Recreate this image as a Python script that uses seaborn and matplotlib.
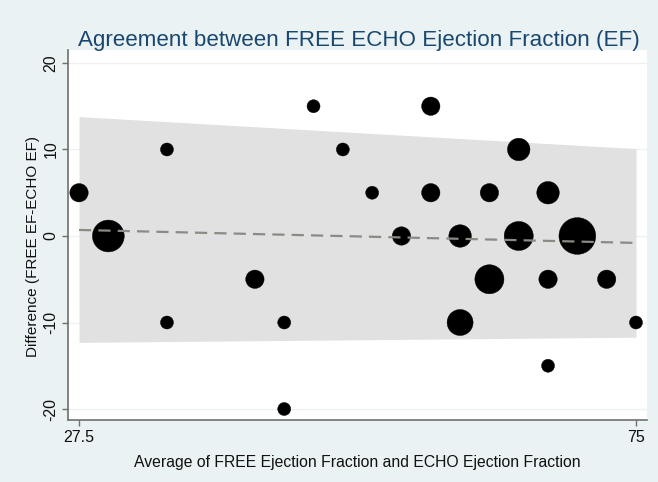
import matplotlib
matplotlib.use("Agg")
import matplotlib.pyplot as plt
import seaborn as sns
import pandas as pd

# Bland-Altman data: mean of the two EF measurements, their difference,
# and how many patients share each (mean, difference) pair.
avg_ef = [27.5, 30, 35, 35, 42.5, 45, 45, 47.5, 50, 52.5, 55, 57.5, 57.5,
          60, 60, 62.5, 62.5, 65, 65, 67.5, 67.5, 67.5, 70, 72.5, 75]
diff_ef = [5, 0, 10, -10, -5, -10, -20, 15, 10, 5, 0, 15, 5,
           0, -10, 5, -5, 10, 0, 5, -5, -15, 0, -5, -10]
n_obs = [2, 6, 1, 1, 2, 1, 1, 1, 1, 1, 2, 2, 2,
         3, 4, 2, 5, 3, 5, 3, 2, 1, 8, 2, 1]

# Regression-based mean difference and limits of agreement at the ends of the range
band_x = [27.5, 75]
band_upper = [13.8, 10.1]
band_lower = [-12.3, -11.7]
band_mean = [0.7, -0.8]

y_ticks = [20, 10, 0, -10, -20]
x_ticks = [27.5, 75]

df = pd.DataFrame({"avg": avg_ef, "diff": diff_ef, "n": n_obs})

sns.set_theme(style="white")
plt.rcParams["font.family"] = ["Liberation Sans", "DejaVu Sans"]

bg = "#eaf2f3"
fig = plt.figure(figsize=(6.58, 4.82), dpi=100, facecolor=bg)
ax = fig.add_axes([68 / 658, 62 / 482, (647 - 68) / 658, (420 - 50) / 482])
ax.set_facecolor("white")

for yv in y_ticks:
    ax.axhline(yv, color="#eef1f1", lw=1.0, zorder=0)

ax.fill_between(band_x, band_lower, band_upper, color="#e1e1e1", lw=0, zorder=1)

# marker area proportional to the number of patients
unit = 87.6
sns.scatterplot(data=df, x="avg", y="diff", size="n",
                sizes=(unit * min(n_obs), unit * max(n_obs)),
                color="black", edgecolor="black", linewidth=0.3,
                legend=False, ax=ax, zorder=3)

ax.plot(band_x, band_mean, color="#878c84", lw=1.6, dashes=(5.5, 3.2), zorder=4)

ax.set_xlim(26.56, 75.94)
ax.set_ylim(-21.27, 21.5)
ax.set_xticks(x_ticks)
ax.set_xticklabels(["27.5", "75"])
ax.set_yticks(y_ticks)
ax.set_yticklabels([str(v) for v in y_ticks], rotation=90, va="center")

for side in ("top", "right"):
    ax.spines[side].set_visible(False)
for side in ("left", "bottom"):
    ax.spines[side].set_color("#6f6f6f")
    ax.spines[side].set_linewidth(1.2)

ax.tick_params(axis="both", which="major", direction="out", length=4, width=1,
               color="#6f6f6f", labelsize=11.5, labelcolor="#111111", pad=3,
               left=True, bottom=True)

ax.set_xlabel("Average of FREE Ejection Fraction and ECHO Ejection Fraction",
              fontsize=11.3, color="#111111")
ax.set_ylabel("Difference (FREE EF-ECHO EF)", fontsize=11, color="#111111")
ax.xaxis.set_label_coords(0.499, -0.094)
ax.yaxis.set_label_coords(-0.048, 0.47)

fig.text(0.545, 0.917, "Agreement between FREE ECHO Ejection Fraction (EF)",
         ha="center", va="center", fontsize=16.1, color="#1a476f")

fig.savefig("out.png", dpi=100, facecolor=bg)
